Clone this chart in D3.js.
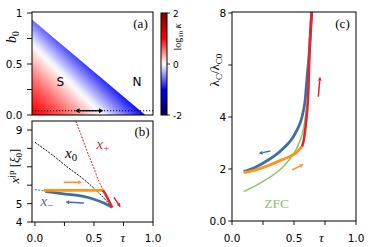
<!DOCTYPE html>
<html><head><meta charset="utf-8">
<script src="https://cdn.jsdelivr.net/npm/d3@7"></script>
<style>body{margin:0;background:#fff}svg{display:block}</style>
</head><body><svg id="chart" width="374" height="247"></svg>
<script>
// ---------------- data ----------------
const tauTicks = [0, 0.25, 0.5, 0.75, 1];
const tauTickLabels = ["0.0", "", "0.5", "", "1.0"];
const b0Ticks = [0, 0.25, 0.5, 0.75, 1];
const b0TickLabels = ["0.0", "", "0.5", "", "1"];
const xjpTicks = [4, 5, 6, 7, 8, 9];
const xjpTickLabels = ["4", "5", "", "", "", "9"];
const lamTicks = [0, 2, 4, 6, 8];
const lamTickLabels = ["0.0", "2", "4", "", "8"];
const cbTicks = [-2, 0, 2];
const cbTickLabels = ["-2", "0", "2"];

// panel (a): phase diagram
const boundaryTau = [-0.025, 0.935];
const boundaryB0 = [0.937, 0];
const kappaGradTau = [-0.025, 0.467];
const kappaGradB0 = [0, 0.569];
const kappaOffsets = [0, 0.3, 0.61, 1];
const kappaLog = [1.05, 0.6, 0, -1.05];
const cutB0 = 0.042;
const sweepTau = [0.34, 0.58];

// panel (b): jump positions
const x0Tau = [0.0, 0.144, 0.286, 0.40, 0.512, 0.597, 0.654];
const x0Val = [8.33, 7.66, 6.93, 6.39, 5.76, 5.21, 4.80];
const xpTau = [0.32, 0.337, 0.385, 0.442, 0.499, 0.541, 0.597, 0.654];
const xpVal = [10.0, 9.65, 8.84, 7.84, 6.93, 6.21, 5.52, 4.80];
const xpThickTau = [0.575, 0.597, 0.625, 0.654];
const xpThickVal = [5.72, 5.52, 5.17, 4.80];
const xmDashTau = [0.0, 0.088];
const xmDashVal = [5.76, 5.69];
const xmTau = [0.088, 0.257, 0.40, 0.512, 0.584, 0.654];
const xmVal = [5.67, 5.52, 5.40, 5.21, 5.03, 4.80];
const orangeBTau = [0.075, 0.575];
const orangeBVal = [5.72, 5.72];

// panel (c): critical wavelength
const blueCTau = [0.094, 0.18, 0.27, 0.40, 0.51, 0.565, 0.59, 0.605, 0.625, 0.645];
const blueCVal = [1.90, 2.05, 2.28, 2.73, 3.37, 4.01, 4.65, 5.5, 6.6, 8.2];
const orangeCTau = [0.094, 0.18, 0.27, 0.40, 0.51, 0.565];
const orangeCVal = [1.86, 1.95, 2.09, 2.35, 2.60, 2.86];
const redCTau = [0.565, 0.58, 0.595, 0.607, 0.615, 0.623, 0.632, 0.645];
const redCVal = [2.86, 3.15, 3.7, 4.3, 4.9, 6.2, 7.2, 8.2];
const zfcTau = [0.094, 0.18, 0.27, 0.40, 0.48, 0.54, 0.58, 0.60];
const zfcVal = [1.13, 1.33, 1.58, 2.03, 2.47, 2.99, 3.63, 4.3];

// ---------------- scales ----------------
const svg = d3.select("#chart");
const xAB = d3.scaleLinear().domain([-0.025, 1]).range([32, 153]);
const yA = d3.scaleLinear().domain([0, 1]).range([115, 13]);
const yB = d3.scaleLinear().domain([4, 9]).range([222, 130]);
const xC = d3.scaleLinear().domain([0, 1]).range([232, 356]);
const yC = d3.scaleLinear().domain([0, 8]).range([221, 13]);
const yCB = d3.scaleLinear().domain([-2, 2]).range([115, 13]);
const seismic = d3.scaleLinear().domain([-2, -1, 0, 1, 2])
  .range(["rgb(0,0,77)", "rgb(0,0,255)", "rgb(255,255,255)", "rgb(255,0,0)", "rgb(128,0,0)"]);

const BLUE = "#3d6fa3", ORANGE = "#ff9419", RED = "#e4252b", GREEN = "#8dc46b";
const SANS = "DejaVu Sans", SERIF = "Liberation Serif";

const defs = svg.append("defs");
function clip(id, x, y, w, h) {
  defs.append("clipPath").attr("id", id).append("rect").attr("x", x).attr("y", y).attr("width", w).attr("height", h);
}
clip("clipA", 32, 12, 121, 103);
clip("clipB", 32, 121, 121, 101);
clip("clipC", 232, 12, 124, 209);

function arrow(g, x1, y1, x2, y2, color, lw, hl, hw, both) {
  const dx = x2 - x1, dy = y2 - y1, L = Math.hypot(dx, dy);
  const ux = dx / L, uy = dy / L;
  const sx = both ? x1 + ux * hl : x1, sy = both ? y1 + uy * hl : y1;
  g.append("line").attr("x1", sx).attr("y1", sy).attr("x2", x2 - ux * hl).attr("y2", y2 - uy * hl)
    .attr("stroke", color).attr("stroke-width", lw);
  const head = (hx, hy, ox, oy) => {
    const bx = hx - ox * hl, by = hy - oy * hl;
    g.append("path").attr("d", `M${hx},${hy}L${bx + (-oy) * hw / 2},${by + ox * hw / 2}L${bx - (-oy) * hw / 2},${by - ox * hw / 2}Z`)
      .attr("fill", color);
  };
  head(x2, y2, ux, uy);
  if (both) head(x1, y1, -ux, -uy);
}

// ---------------- panel (a) ----------------
const gA = svg.append("g");
const grad = defs.append("linearGradient").attr("id", "kgrad").attr("gradientUnits", "userSpaceOnUse")
  .attr("x1", xAB(kappaGradTau[0])).attr("y1", yA(kappaGradB0[0]))
  .attr("x2", xAB(kappaGradTau[1])).attr("y2", yA(kappaGradB0[1]));
const offToVal = d3.scaleLinear().domain(kappaOffsets).range(kappaLog);
d3.range(0, 1.0001, 0.05).forEach(t => {
  grad.append("stop").attr("offset", t).attr("stop-color", seismic(offToVal(t)));
});
const tri = [[boundaryTau[0], boundaryB0[0]], [boundaryTau[1], boundaryB0[1]], [boundaryTau[0], 0]];
gA.append("path").attr("clip-path", "url(#clipA)")
  .attr("d", "M" + tri.map(p => [xAB(p[0]), yA(p[1])].join(",")).join("L") + "Z")
  .attr("fill", "url(#kgrad)");
gA.append("line").attr("clip-path", "url(#clipA)")
  .attr("x1", xAB(-0.025)).attr("x2", xAB(1)).attr("y1", yA(cutB0)).attr("y2", yA(cutB0))
  .attr("stroke", "#000").attr("stroke-width", 1.1).attr("stroke-dasharray", "1.2,1.8");
arrow(gA, xAB(sweepTau[0]), yA(cutB0), xAB(sweepTau[1]), yA(cutB0), "#000", 1.3, 4.5, 5, true);
gA.append("text").attr("x", 60.3).attr("y", 86).attr("text-anchor", "middle")
  .attr("font-family", SANS).attr("font-size", 12).text("S");
gA.append("text").attr("x", 137).attr("y", 86).attr("text-anchor", "middle")
  .attr("font-family", SANS).attr("font-size", 12).text("N");
gA.append("text").attr("x", 140.5).attr("y", 27.5).attr("text-anchor", "middle")
  .attr("font-family", SERIF).attr("font-size", 13).text("(a)");
gA.append("rect").attr("x", 32).attr("y", 12).attr("width", 121).attr("height", 103)
  .attr("fill", "none").attr("stroke", "#000").attr("stroke-width", 1);

// colorbar
const cbGrad = defs.append("linearGradient").attr("id", "cbgrad").attr("x1", 0).attr("y1", 1).attr("x2", 0).attr("y2", 0);
d3.range(-2, 2.001, 0.25).forEach(v => {
  cbGrad.append("stop").attr("offset", (v + 2) / 4).attr("stop-color", seismic(v));
});
svg.append("rect").attr("x", 161).attr("y", 13).attr("width", 6).attr("height", 102)
  .attr("fill", "url(#cbgrad)").attr("stroke", "#000").attr("stroke-width", 1);
cbTicks.forEach((t, i) => {
  svg.append("line").attr("x1", 167).attr("x2", 170).attr("y1", yCB(t)).attr("y2", yCB(t))
    .attr("stroke", "#000").attr("stroke-width", 0.8);
  svg.append("text").attr("x", 173).attr("y", yCB(t) + 3.6).attr("font-family", SANS)
    .attr("font-size", 9).text(cbTickLabels[i]);
});
const cbl = svg.append("text").attr("transform", "translate(181,37) rotate(-90)")
  .attr("text-anchor", "middle").attr("font-family", SERIF).attr("font-size", 10);
cbl.append("tspan").text("log");
cbl.append("tspan").attr("font-size", 7).attr("dy", 2).text("10");
cbl.append("tspan").attr("dy", -2).attr("font-style", "italic").text(" κ");

// ---------------- axes helpers ----------------
function yTicks(x0, scale, ticks, labels, len, pad) {
  ticks.forEach((t, i) => {
    svg.append("line").attr("x1", x0 - len).attr("x2", x0).attr("y1", scale(t)).attr("y2", scale(t))
      .attr("stroke", "#000").attr("stroke-width", 0.9);
    if (labels[i]) svg.append("text").attr("x", x0 - len - pad).attr("y", scale(t) + 3.9)
      .attr("text-anchor", "end").attr("font-family", SANS).attr("font-size", 10.5).text(labels[i]);
  });
}
function xTicks(y0, scale, ticks, labels, tauPos) {
  ticks.forEach((t, i) => {
    svg.append("line").attr("x1", scale(t)).attr("x2", scale(t)).attr("y1", y0).attr("y2", y0 + 4)
      .attr("stroke", "#000").attr("stroke-width", 0.9);
    if (labels[i]) svg.append("text").attr("x", scale(t)).attr("y", 241.7)
      .attr("text-anchor", "middle").attr("font-family", SANS).attr("font-size", 10.5).text(labels[i]);
  });
  svg.append("text").attr("x", scale(tauPos)).attr("y", 241.5).attr("text-anchor", "middle")
    .attr("font-family", SERIF).attr("font-style", "italic").attr("font-size", 13).text("τ");
}
yTicks(32, yA, b0Ticks, b0TickLabels, 5, 4.5);
const b0l = svg.append("text").attr("transform", "translate(16,37) rotate(-90)")
  .attr("text-anchor", "middle").attr("font-family", SERIF).attr("font-size", 14);
b0l.append("tspan").attr("font-style", "italic").text("b");
b0l.append("tspan").attr("font-size", 9.5).attr("dy", 3).text("0");

// ---------------- panel (b) ----------------
const gB = svg.append("g").attr("clip-path", "url(#clipB)");
const lineB = d3.line().x(d => xAB(d[0])).y(d => yB(d[1])).curve(d3.curveMonotoneX);
const zip = (a, b) => a.map((v, i) => [v, b[i]]);
gB.append("path").attr("d", lineB(zip(x0Tau, x0Val))).attr("fill", "none")
  .attr("stroke", "#000").attr("stroke-width", 1).attr("stroke-dasharray", "2,1.3");
gB.append("path").attr("d", lineB(zip(xpTau, xpVal))).attr("fill", "none")
  .attr("stroke", RED).attr("stroke-width", 1).attr("stroke-dasharray", "2,1.3");
gB.append("path").attr("d", lineB(zip(xmDashTau, xmDashVal))).attr("fill", "none")
  .attr("stroke", BLUE).attr("stroke-width", 1).attr("stroke-dasharray", "2,1.3");
gB.append("path").attr("d", lineB(zip(xmTau, xmVal))).attr("fill", "none")
  .attr("stroke", BLUE).attr("stroke-width", 2.8);
gB.append("path").attr("d", lineB(zip(orangeBTau, orangeBVal))).attr("fill", "none")
  .attr("stroke", ORANGE).attr("stroke-width", 2.8);
gB.append("path").attr("d", lineB(zip(xpThickTau, xpThickVal))).attr("fill", "none")
  .attr("stroke", RED).attr("stroke-width", 2.5);
arrow(gB, xAB(0.244), yB(6.16), xAB(0.40), yB(6.16), ORANGE, 1.5, 4, 4);
arrow(gB, xAB(0.414), yB(5.03), xAB(0.257), yB(5.09), BLUE, 1.5, 4, 4);
arrow(gB, xAB(0.669), yB(5.34), xAB(0.725), yB(4.80), RED, 1.5, 4, 4);
function sub(g, x, y, main, s, color, size) {
  const t = g.append("text").attr("x", x).attr("y", y).attr("text-anchor", "middle")
    .attr("font-family", SERIF).attr("font-size", size).attr("fill", color);
  t.append("tspan").attr("font-style", "italic").text(main);
  t.append("tspan").attr("font-size", size * 0.72).attr("dy", 3).text(s);
  return t;
}
sub(svg, 71, 158, "x", "0", "#000", 15);
sub(svg, 103, 149, "x", "+", RED, 15);
sub(svg, 47, 206, "x", "−", BLUE, 15);
svg.append("text").attr("x", 142).attr("y", 136).attr("text-anchor", "middle")
  .attr("font-family", SERIF).attr("font-size", 13).text("(b)");
svg.append("rect").attr("x", 32).attr("y", 121).attr("width", 121).attr("height", 101)
  .attr("fill", "none").attr("stroke", "#000").attr("stroke-width", 1);
yTicks(32, yB, xjpTicks, xjpTickLabels, 5, 4.5);
xTicks(222, xAB, tauTicks, tauTickLabels, 0.745);
const xl = svg.append("text").attr("transform", "translate(19,166) rotate(-90)")
  .attr("text-anchor", "middle").attr("font-family", SERIF).attr("font-size", 13);
xl.append("tspan").attr("font-style", "italic").text("x");
xl.append("tspan").attr("font-size", 9).attr("dy", -5).text("jp");
xl.append("tspan").attr("dy", 5).text(" [");
xl.append("tspan").attr("font-style", "italic").text("ξ");
xl.append("tspan").attr("font-size", 9).attr("dy", 3).text("0");
xl.append("tspan").attr("dy", -3).text("]");

// ---------------- panel (c) ----------------
const gC = svg.append("g").attr("clip-path", "url(#clipC)");
const lineC = d3.line().x(d => xC(d[0])).y(d => yC(d[1])).curve(d3.curveMonotoneX);
gC.append("path").attr("d", lineC(zip(zfcTau, zfcVal))).attr("fill", "none")
  .attr("stroke", GREEN).attr("stroke-width", 1.5);
gC.append("path").attr("d", lineC(zip(blueCTau, blueCVal))).attr("fill", "none")
  .attr("stroke", BLUE).attr("stroke-width", 2.8);
gC.append("path").attr("d", lineC(zip(orangeCTau, orangeCVal))).attr("fill", "none")
  .attr("stroke", ORANGE).attr("stroke-width", 2.8);
gC.append("path").attr("d", lineC(zip(redCTau, redCVal))).attr("fill", "none")
  .attr("stroke", RED).attr("stroke-width", 2.6);
arrow(gC, xC(0.309), yC(2.69), xC(0.215), yC(2.60), BLUE, 1.5, 4, 4);
arrow(gC, xC(0.484), yC(1.96), xC(0.578), yC(2.18), ORANGE, 1.5, 4, 4);
arrow(gC, xC(0.696), yC(4.78), xC(0.71), yC(5.55), RED, 1.5, 4, 4);
svg.append("text").attr("x", xC(0.36)).attr("y", 208).attr("text-anchor", "middle")
  .attr("font-family", SERIF).attr("font-size", 13.5).attr("fill", GREEN).text("ZFC");
svg.append("text").attr("x", 342.5).attr("y", 28).attr("text-anchor", "middle")
  .attr("font-family", SERIF).attr("font-size", 13).text("(c)");
svg.append("rect").attr("x", 232).attr("y", 12).attr("width", 124).attr("height", 209)
  .attr("fill", "none").attr("stroke", "#000").attr("stroke-width", 1);
yTicks(232, yC, lamTicks, lamTickLabels, 3.7, 2);
xTicks(221, xC, tauTicks, tauTickLabels, 0.72);
const ll = svg.append("text").attr("transform", "translate(219,70) rotate(-90)")
  .attr("text-anchor", "middle").attr("font-family", SERIF).attr("font-size", 13);
ll.append("tspan").text("λ");
ll.append("tspan").attr("font-size", 9).attr("dy", 3).text("C");
ll.append("tspan").attr("dy", -3).text("/λ");
ll.append("tspan").attr("font-size", 9).attr("dy", 3).text("C0");
</script></body></html>
